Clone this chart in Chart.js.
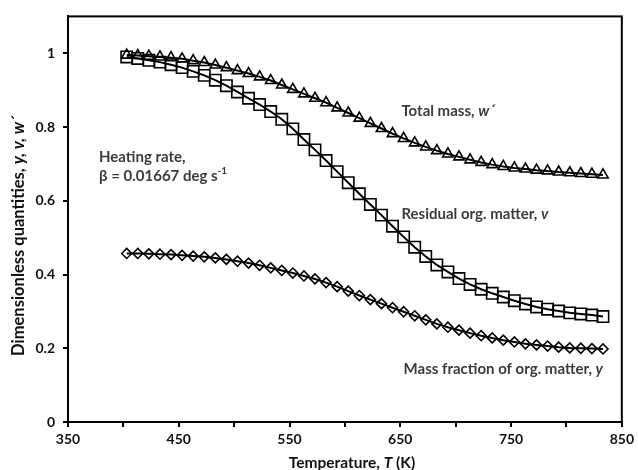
<!DOCTYPE html>
<html><head><meta charset="utf-8">
<script src="https://cdn.jsdelivr.net/npm/chart.js@4.4.0/dist/chart.umd.min.js"></script>
<style>html,body{margin:0;padding:0;background:#fff}#wrap{width:638px;height:470px}</style>
</head><body><div id="wrap"><canvas id="c" width="638" height="470"></canvas></div>
<script>
// Temperature (K)
const temperatures = [403,413,423,433,443,453,463,473,483,493,503,513,523,533,543,553,563,573,583,593,603,613,623,633,643,653,663,673,683,693,703,713,723,733,743,753,763,773,783,793,803,813,823,833];
// Total mass, w'
const totalMass = [0.995,0.994,0.992,0.990,0.988,0.985,0.980,0.975,0.968,0.961,0.953,0.945,0.936,0.926,0.914,0.902,0.890,0.878,0.866,0.852,0.838,0.824,0.810,0.796,0.782,0.769,0.757,0.746,0.736,0.727,0.719,0.711,0.704,0.698,0.693,0.689,0.686,0.683,0.681,0.678,0.676,0.674,0.672,0.670];
// Residual org. matter, v
const residualOrg = [0.990,0.986,0.981,0.976,0.969,0.961,0.951,0.940,0.927,0.912,0.895,0.878,0.861,0.842,0.821,0.795,0.766,0.738,0.709,0.679,0.649,0.619,0.590,0.561,0.531,0.502,0.474,0.449,0.426,0.407,0.389,0.373,0.360,0.349,0.339,0.329,0.320,0.312,0.306,0.301,0.296,0.293,0.290,0.286];
// Mass fraction of org. matter, y
const massFraction = [0.457,0.457,0.456,0.455,0.454,0.452,0.450,0.448,0.445,0.441,0.436,0.431,0.425,0.418,0.411,0.404,0.396,0.388,0.378,0.367,0.355,0.343,0.332,0.321,0.310,0.299,0.288,0.277,0.266,0.257,0.249,0.241,0.234,0.228,0.222,0.217,0.212,0.209,0.206,0.203,0.201,0.200,0.199,0.198];
const xTickLabels = [350,450,550,650,750,850];
const yTickLabels = [0,0.2,0.4,0.6,0.8,1];

const FONT = 'Lato, "Open Sans", sans-serif';
const TXT = '#3c3c3c';

function pts(arr){ return temperatures.map((t,i)=>({x:t,y:arr[i]})); }

function drawRich(ctx, segs, x, y, size){
  let cx = x;
  segs.forEach(s=>{
    const fs = s.sup ? Math.round(size*0.65) : size;
    ctx.font = (s.italic?'italic ':'') + 'bold ' + fs + 'px ' + FONT;
    const dy = s.sup ? -size*0.38 : 0;
    ctx.fillText(s.t, cx, y + dy);
    cx += ctx.measureText(s.t).width;
  });
  return cx - x;
}
function richWidth(ctx, segs, size){
  let w=0;
  segs.forEach(s=>{
    const fs = s.sup ? Math.round(size*0.65) : size;
    ctx.font = (s.italic?'italic ':'') + 'bold ' + fs + 'px ' + FONT;
    w += ctx.measureText(s.t).width;
  });
  return w;
}

const annot = {
  id:'annot',
  afterDraw(chart){
    const {ctx, chartArea:a, scales:{x,y}} = chart;
    ctx.save();
    ctx.strokeStyle='#000'; ctx.lineWidth=2;
    ctx.strokeRect(a.left, a.top, a.right-a.left, a.bottom-a.top);
    ctx.fillStyle = TXT;
    ctx.textBaseline='middle'; ctx.textAlign='left';
    const S = 15;
    drawRich(ctx,[{t:'Total mass, '},{t:'w´',italic:true}], x.getPixelForValue(651), y.getPixelForValue(0.844), S);
    drawRich(ctx,[{t:'Residual org. matter, '},{t:'v',italic:true}], x.getPixelForValue(651), y.getPixelForValue(0.565), S);
    drawRich(ctx,[{t:'Mass fraction of org. matter, '},{t:'y',italic:true}], x.getPixelForValue(653), y.getPixelForValue(0.142), S);
    drawRich(ctx,[{t:'Heating rate,'}], x.getPixelForValue(378), y.getPixelForValue(0.718), S);
    drawRich(ctx,[{t:'β = 0.01667 deg s'},{t:'-1',sup:true}], x.getPixelForValue(378), y.getPixelForValue(0.667), S);
    // axis titles
    ctx.fillStyle='#111';
    const xt=[{t:'Temperature, '},{t:'T',italic:true},{t:' (K)'}];
    const w1 = richWidth(ctx,xt,15.5);
    drawRich(ctx,xt,352 - w1/2, 463, 15.5);
    const yt=[{t:'Dimensionless quantities, '},{t:'y, v, w´',italic:true}];
    const w2 = richWidth(ctx,yt,16.5);
    ctx.translate(19,236);
    ctx.rotate(-Math.PI/2);
    drawRich(ctx,yt,-w2/2,0,16.5);
    ctx.restore();
  }
};

const common = {borderColor:'#000', borderWidth:2, pointBorderColor:'#000', pointBackgroundColor:'rgba(0,0,0,0)', pointBorderWidth:1.6, showLine:true, tension:0, fill:false};

new Chart(document.getElementById('c'), {
  type:'scatter',
  data:{datasets:[
    Object.assign({label:'Total mass, w´', data:pts(totalMass), pointStyle:'triangle', pointRadius:6}, common),
    Object.assign({label:'Residual org. matter, v', data:pts(residualOrg), pointStyle:'rect', pointRadius:8}, common),
    Object.assign({label:'Mass fraction of org. matter, y', data:pts(massFraction), pointStyle:'rectRot', pointRadius:5}, common)
  ]},
  options:{
    responsive:false, animation:false, devicePixelRatio:1,
    layout:{padding:{top:13,right:10,left:0,bottom:0}},
    plugins:{legend:{display:false}, tooltip:{enabled:false}},
    scales:{
      x:{type:'linear', min:350, max:850,
        afterBuildTicks(s){ const t=[]; for(let v=350; v<=850; v+=50) t.push({value:v}); s.ticks=t; },
        ticks:{font:{family:FONT, weight:'bold', size:14}, color:'#111', padding:4, maxRotation:0, autoSkip:false,
          callback:(v)=> xTickLabels.includes(v) ? String(v) : ''},
        grid:{display:true, drawOnChartArea:false, drawTicks:true, tickLength:5, color:'#000', lineWidth:2},
        border:{display:true, color:'#000', width:2},
        afterFit(s){ s.height = 48; }
      },
      y:{type:'linear', min:0, max:1.1,
        afterBuildTicks(s){ s.ticks = yTickLabels.map(v=>({value:v})); },
        ticks:{font:{family:FONT, weight:'bold', size:14}, color:'#111', padding:8,
          callback:(v)=> String(v)},
        grid:{display:true, drawOnChartArea:false, drawTicks:true, tickLength:5, color:'#000', lineWidth:2},
        border:{display:true, color:'#000', width:2},
        afterFit(s){ s.width = 68; }
      }
    }
  },
  plugins:[annot]
});
</script></body></html>
